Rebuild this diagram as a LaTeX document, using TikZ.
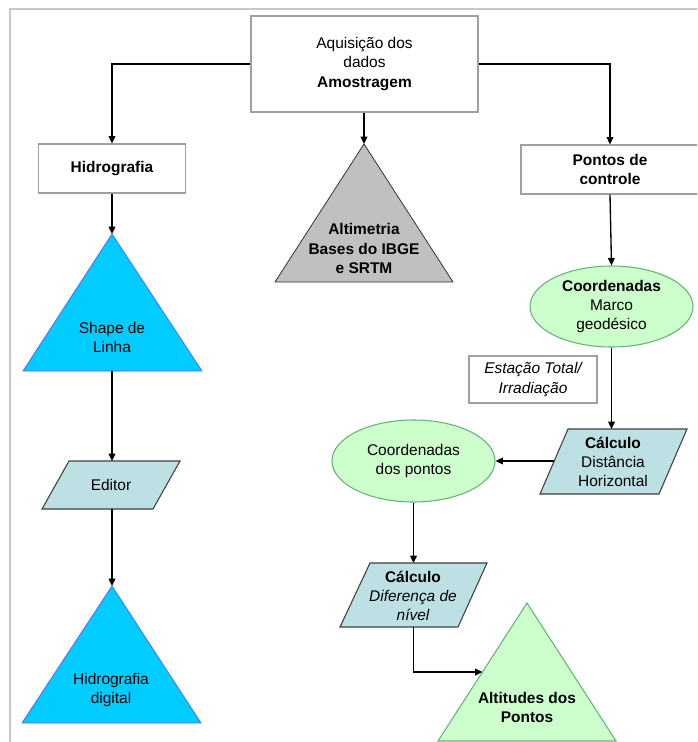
\documentclass[tikz,border=0pt]{standalone}
\usepackage{fontspec}
\setmainfont{Liberation Sans}
\usetikzlibrary{arrows.meta,shapes.geometric}
\definecolor{framegray}{RGB}{200,200,200}
\definecolor{boxgray}{RGB}{160,160,160}
\definecolor{cyanfill}{RGB}{0,204,255}
\definecolor{cyanline}{RGB}{90,100,255}
\definecolor{grayfill}{RGB}{192,192,192}
\definecolor{paral}{RGB}{188,224,228}
\definecolor{greenfill}{RGB}{204,255,204}
\definecolor{greenline}{RGB}{100,180,120}
\tikzset{
  txt/.style={font=\fontsize{11.6}{14.3}\selectfont, align=center, inner sep=0pt},
  whitebox/.style={txt, draw=boxgray, line width=0.8pt, fill=white, rectangle},
  ovalbox/.style={txt, ellipse, draw=greenline, line width=0.8pt, fill=greenfill},
  arr/.style={draw=black, line width=1pt, -{Triangle[length=5.5pt,width=5pt]}},
  cyantri/.style={fill=cyanfill, draw=cyanline, line width=0.6pt},
  graytri/.style={fill=grayfill, draw=black!80, line width=0.6pt},
  greentri/.style={fill=greenfill, draw=greenline, line width=0.8pt},
  parbox/.style={fill=paral, draw=black!75, line width=0.8pt},
}
\begin{document}
\begin{tikzpicture}[x=0.75pt,y=-0.75pt]
\useasboundingbox (0,0) rectangle (697,742);
\fill[white] (0,0) rectangle (697,742);
\begin{scope}
\clip (0,0) rectangle (697,742);
% frame
\draw[framegray, line width=1.5pt] (10,742) -- (10,9) -- (700,9);

% rectangle nodes
\node[whitebox, minimum width=170.25pt, minimum height=72pt] (top) at (364.5,64)
  {Aquisição dos\\dados\\\textbf{Amostragem}};
\node[whitebox, minimum width=110.25pt, minimum height=36.75pt] (hid) at (112,168.5)
  {\textbf{Hidrografia}};
\node[whitebox, minimum width=133.5pt, minimum height=36.75pt] (pc) at (610,169.5)
  {\textbf{Pontos de}\\\textbf{controle}};
\node[whitebox, minimum width=96pt, minimum height=35.25pt] (est) at (533,379.5)
  {\itshape Estação Total/\\\itshape Irradiação};

% ellipses
\node[ovalbox, minimum width=122.25pt, minimum height=60.75pt] (mg) at (611.5,306.5)
  {\textbf{Coordenadas}\\Marco\\geodésico};
\node[ovalbox, minimum width=122.25pt, minimum height=61.5pt] (cp) at (413.5,461)
  {Coordenadas\\dos pontos};

% triangles
\path[graytri] (364,144) -- (453,282) -- (275,282) -- cycle;
\coordinate (alt-apex) at (364,144);
\node[txt] (alt) at (364,248.5) {\textbf{Altimetria}\\\textbf{Bases do IBGE}\\\textbf{e SRTM}};

\path[cyantri] (112,234) -- (202,371) -- (23,371) -- cycle;
\coordinate (shp-apex) at (112,234);
\coordinate (shp-base) at (112,371);
\node[txt] (shp) at (112,337.5) {Shape de\\Linha};

\path[cyantri] (112,586) -- (201,723) -- (22,723) -- cycle;
\coordinate (hd-apex) at (112,586);
\node[txt] (hd) at (111,690) {Hidrografia\\digital};

\path[greentri] (527,603) -- (616,741) -- (438,741) -- cycle;
\coordinate (at-left) at (482.5,672);
\node[txt] (at) at (527,707) {\textbf{Altitudes dos}\\\textbf{Pontos}};

% parallelograms
\path[parbox] (69,461) -- (180,461) -- (153,509) -- (42,509) -- cycle;
\coordinate (ed-top) at (112,461);
\coordinate (ed-bot) at (112,509);
\node[txt] (ed) at (111,484.5) {Editor};

\path[parbox] (568,429) -- (687,429) -- (659,494) -- (540,494) -- cycle;
\coordinate (dh-top) at (611.5,429);
\coordinate (dh-left) at (553.8,461);
\node[txt] (dh) at (613,462) {\textbf{Cálculo}\\Distância\\Horizontal};

\path[parbox] (370,563) -- (487,563) -- (458,627) -- (340,627) -- cycle;
\coordinate (dn-top) at (413.5,563);
\coordinate (dn-bot) at (413.5,627);
\node[txt] (dn) at (413,596) {\textbf{Cálculo}\\\itshape Diferença de\\\itshape nível};

% connectors
\draw[arr] (top.west) -| (hid.north);
\draw[arr] (top.east) -| (pc.north);
\draw[arr] (top.south -| alt-apex) -- (alt-apex);
\draw[arr] (hid.south -| shp-apex) -- (shp-apex);
\draw[arr] (shp-base) -- (ed-top);
\draw[arr] (ed-bot) -- (hd-apex);
\draw[arr] (pc.south) -- (mg.north);
\draw[arr] (mg.south) -- (dh-top);
\draw[arr] (dh-left) -- (cp.east);
\draw[arr] (cp.south) -- (dn-top);
\draw[arr] (dn-bot) |- (at-left);
\end{scope}
\end{tikzpicture}
\end{document}
